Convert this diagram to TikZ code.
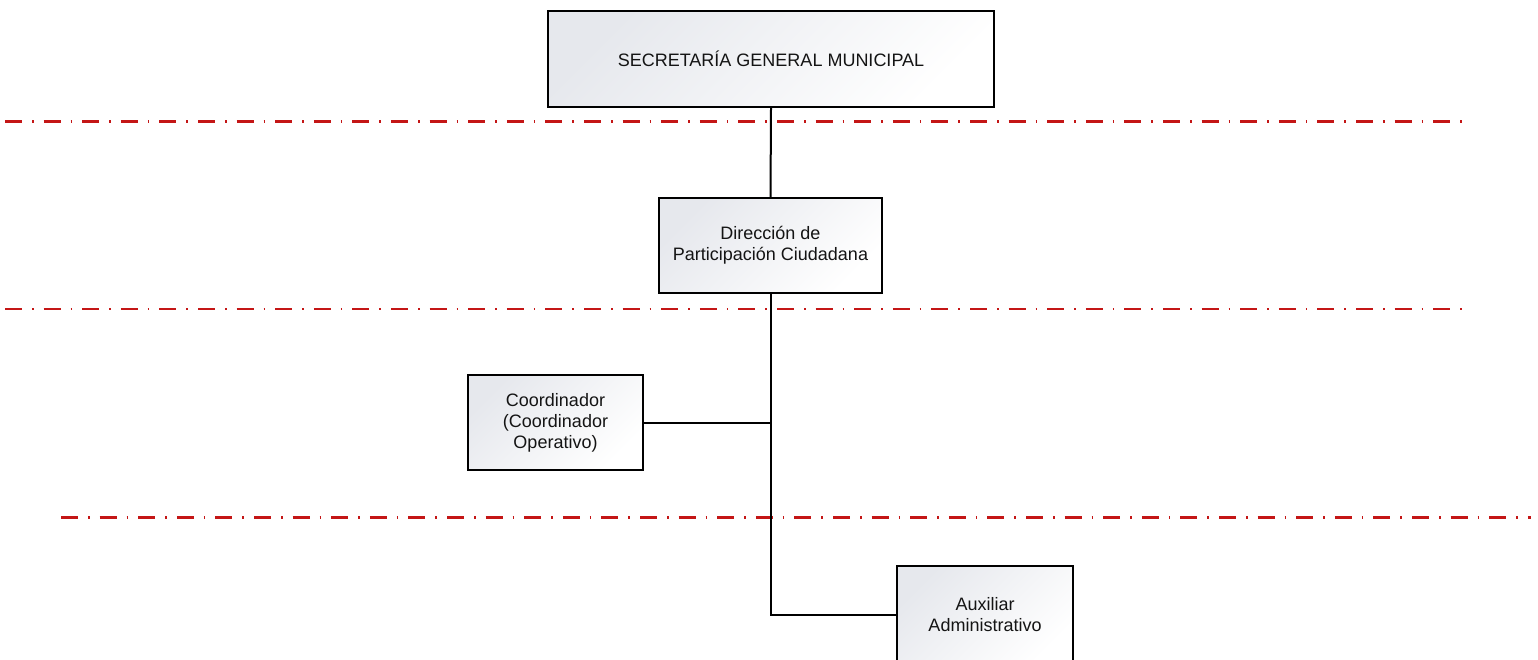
\documentclass[tikz,border=0pt]{standalone}
\usepackage{fontspec}
\setmainfont{Liberation Sans}
\begin{document}
\definecolor{boxtint}{RGB}{230,232,237}
\definecolor{levelred}{RGB}{196,22,22}
\definecolor{inktext}{RGB}{20,20,20}
\begin{tikzpicture}[x=1pt, y=-1pt,
  orgbox/.style={draw=black, line width=2pt, rectangle, anchor=north west,
    top color=boxtint, bottom color=white, shading angle=45,
    align=center, inner sep=4pt, text=inktext,
    font=\fontsize{18}{21}\selectfont},
  levelline/.style={draw=levelred, line width=2.4pt,
    dash pattern=on 17pt off 10pt on 1.6pt off 10pt},
  link/.style={draw=black, line width=2pt}]
  \useasboundingbox (0,0) rectangle (1538,660);
  \clip (0,0) rectangle (1538,660);

  % hierarchy level separators
  \coordinate (l1a) at (5,121.5);  \coordinate (l1b) at (1471,121.5);
  \coordinate (l2a) at (5,309);    \coordinate (l2b) at (1471,309);
  \coordinate (l3a) at (61,517.5); \coordinate (l3b) at (1531,517.5);
  \draw[levelline] (l1a) -- (l1b);
  \draw[levelline] (l2a) -- (l2b);
  \draw[levelline] (l3a) -- (l3b);

  % positions
  \node[orgbox, minimum width=446pt, minimum height=96pt] (sec) at (547,10)
    {SECRETARÍA GENERAL MUNICIPAL};
  \node[orgbox, minimum width=223pt, minimum height=95pt] (dir) at (658,197)
    {Dirección de\\Participación Ciudadana};
  \node[orgbox, minimum width=175pt, minimum height=95pt] (coord) at (467,374)
    {Coordinador\\(Coordinador\\Operativo)};
  \node[orgbox, minimum width=176pt, minimum height=98pt] (aux) at (896,565)
    {Auxiliar\\Administrativo};

  % reporting lines
  \draw[link] (sec.south) -- (dir.north);
  \draw[link] (dir.south) |- (aux.west);
  \draw[link] (coord.east) -- (coord.east -| dir.south);
\end{tikzpicture}
\end{document}
